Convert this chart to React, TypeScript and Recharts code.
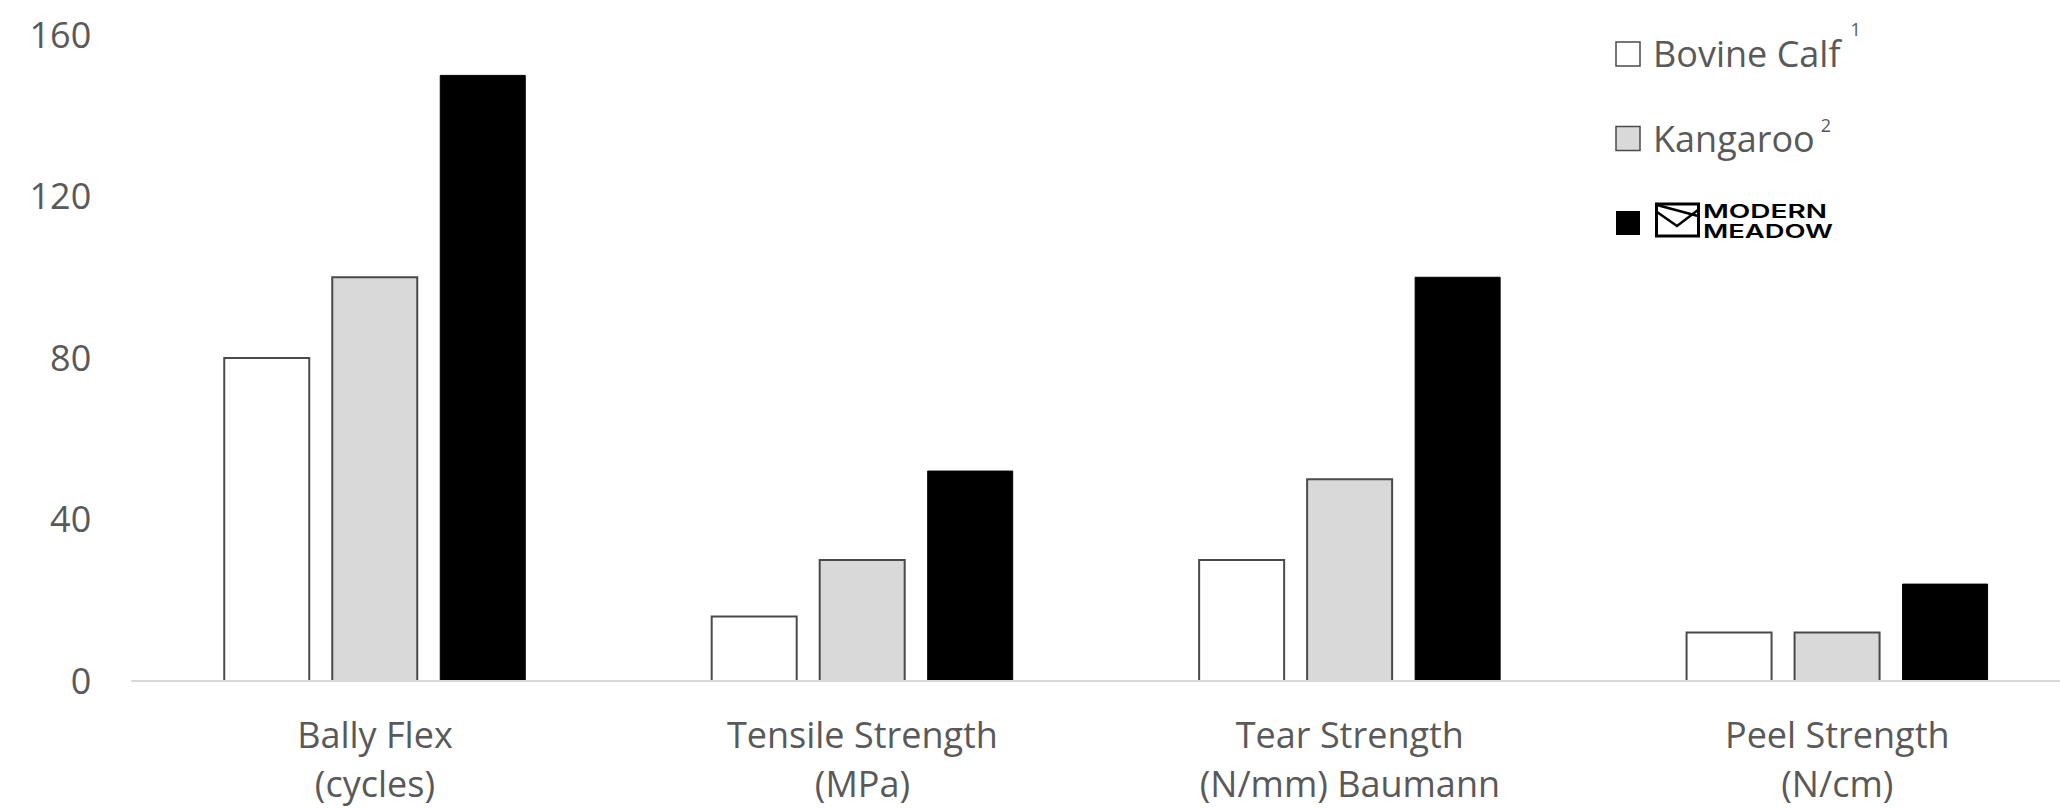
import { BarChart, Bar, XAxis, YAxis, Legend } from 'recharts';

// page reset so the chart sits at 0,0 and nothing scrolls
document.body.style.margin = '0';
document.body.style.overflow = 'hidden';

const categories = ['Bally Flex', 'Tensile Strength', 'Tear Strength', 'Peel Strength'];
const units = ['(cycles)', '(MPa)', '(N/mm) Baumann', '(N/cm)'];
const bovineCalf = [80, 16, 30, 12];
const kangaroo = [100, 30, 50, 12];
const modernMeadow = [150, 52, 100, 24];
const yTicks = [0, 40, 80, 120, 160];

const seriesNames = ['Bovine Calf', 'Kangaroo', 'Modern Meadow'];
const superscripts = ['1', '2', ''];

const chartData = categories.map((name, i) => ({
  name,
  bovine: bovineCalf[i],
  kangaroo: kangaroo[i],
  mm: modernMeadow[i],
}));

const FONT = '"Open Sans", sans-serif';
const GREY_TEXT = '#595959';
const BAR_EDGE = '#4a4a4a';

function CategoryTick({ x, y, payload }: any) {
  const i = categories.indexOf(payload.value);
  return (
    <text x={x} y={y} textAnchor="middle" fill={GREY_TEXT} fontSize={36} fontFamily={FONT}>
      <tspan x={x} dy={67}>{categories[i]}</tspan>
      <tspan x={x} dy={49}>{units[i]}</tspan>
    </text>
  );
}

// legend drawn in page coords, shifted by the wrapper's offset
const LEG_X = 1600;
const LEG_Y = 10;

function renderLegend(props: any) {
  const payload = props.payload || [];
  const rowCenters = [54, 138.5, 223];
  const supDy = [-31, -20];
  const supDx = [10, 6];
  return (
    <svg width={300} height={250} style={{ display: 'block', overflow: 'visible' }}>
      <g transform={`translate(${-LEG_X},${-LEG_Y})`}>
        {payload.map((entry: any, i: number) => {
          const cy = rowCenters[i];
          const fill = entry.payload?.fill ?? entry.color;
          const stroke = entry.payload?.stroke ?? 'none';
          if (i < 2) {
            return (
              <g key={i}>
                <rect x={1616} y={cy - 12} width={24} height={24} fill={fill} stroke={stroke} strokeWidth={1.5} />
                <text x={1653} y={cy + 13} fill={GREY_TEXT} fontSize={36} fontFamily={FONT}>
                  {seriesNames[i]}
                  <tspan dx={supDx[i]} dy={supDy[i]} fontSize={18}>{superscripts[i]}</tspan>
                </text>
              </g>
            );
          }
          return (
            <g key={i}>
              <rect x={1616} y={cy - 12} width={24} height={24} fill={fill} />
              <rect x={1656.5} y={204} width={42} height={32} fill="none" stroke="#000" strokeWidth={3} />
              <polyline points="1657,212 1677,226 1698,210" fill="none" stroke="#000" strokeWidth={2.5} />
              <line x1={1657} y1={205} x2={1698} y2={216} stroke="#000" strokeWidth={2.5} />
              <text x={1703} y={218} fontSize={19} fontWeight={600} fontFamily="Inter, sans-serif" fill="#000" textLength={124} lengthAdjust="spacingAndGlyphs">MODERN</text>
              <text x={1703} y={237.5} fontSize={19} fontWeight={600} fontFamily="Inter, sans-serif" fill="#000" textLength={130} lengthAdjust="spacingAndGlyphs">MEADOW</text>
            </g>
          );
        })}
      </g>
    </svg>
  );
}

export default function App() {
  return (
    <div style={{ width: 2060, height: 810, overflow: 'hidden', background: '#fff' }}>
      <BarChart
        width={2110}
        height={810}
        data={chartData}
        margin={{ top: 35, right: 29, left: 0, bottom: 0 }}
        barSize={85}
        barGap={23}
      >
        <XAxis
          dataKey="name"
          interval={0}
          height={129}
          tickLine={false}
          tickSize={0}
          tickMargin={0}
          axisLine={{ stroke: '#D9D9D9', strokeWidth: 2 }}
          tick={<CategoryTick />}
        />
        <YAxis
          width={131.25}
          domain={[0, 160]}
          ticks={yTicks}
          axisLine={false}
          tickLine={false}
          tickSize={6}
          tickMargin={34}
          tick={{ fill: GREY_TEXT, fontSize: 36, fontFamily: FONT }}
        />
        <Legend
          layout="horizontal"
          verticalAlign="middle"
          align="center"
          content={renderLegend}
          wrapperStyle={{ position: 'absolute', left: LEG_X, top: LEG_Y, width: 300, height: 250 }}
        />
        <Bar dataKey="bovine" name={seriesNames[0]} fill="#FFFFFF" stroke={BAR_EDGE} strokeWidth={2} isAnimationActive={false} />
        <Bar dataKey="kangaroo" name={seriesNames[1]} fill="#D9D9D9" stroke={BAR_EDGE} strokeWidth={2} isAnimationActive={false} />
        <Bar dataKey="mm" name={seriesNames[2]} fill="#000000" stroke="#000000" strokeWidth={1} isAnimationActive={false} />
      </BarChart>
    </div>
  );
}
